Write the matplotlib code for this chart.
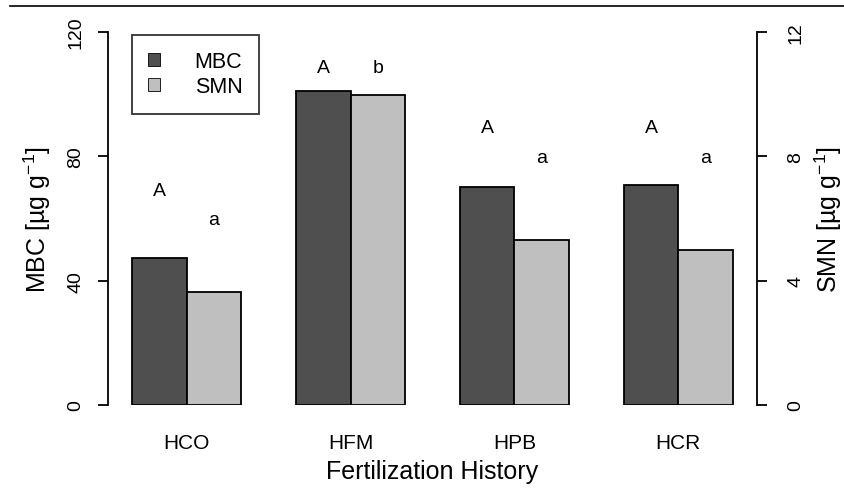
import numpy as np
import matplotlib
matplotlib.use("Agg")
import matplotlib.pyplot as plt
from matplotlib.lines import Line2D
from matplotlib.patches import Patch

plt.rcParams['font.family'] = ['Liberation Sans', 'DejaVu Sans']
plt.rcParams['mathtext.fontset'] = 'custom'
plt.rcParams['mathtext.rm'] = 'Liberation Sans'
plt.rcParams['mathtext.it'] = 'Liberation Sans'

groups = ['HCO', 'HFM', 'HPB', 'HCR']
mbc = [47.2, 100.9, 70.0, 70.7]          # µg g-1, left axis
smn = [3.63, 9.96, 5.30, 4.98]           # µg g-1, right axis
mbc_letters = ['A', 'A', 'A', 'A']
smn_letters = ['a', 'b', 'a', 'a']
mbc_letter_y = [69, 108.6, 89.3, 89.3]   # in MBC units
smn_letter_y = [59.8, 108.6, 79.7, 79.7]

dark = '#4f4f4f'
light = '#bfbfbf'

fig = plt.figure(figsize=(8.45, 4.89), dpi=100)
ax = fig.add_axes([108/845, 83/489, (757-108)/845, (406-33)/489])
ax2 = ax.twinx()

left = np.arange(len(groups)) * 3 + 1
ax.bar(left, mbc, width=1, align='edge', color=dark, edgecolor='black', linewidth=1.3, zorder=2)
ax2.bar(left + 1, smn, width=1, align='edge', color=light, edgecolor='black', linewidth=1.3, zorder=2)

for i in range(len(groups)):
    ax.text(left[i] + 0.5, mbc_letter_y[i], mbc_letters[i], ha='center', va='center', fontsize=14)
    ax.text(left[i] + 1.5, smn_letter_y[i], smn_letters[i], ha='center', va='center', fontsize=14)

ax.set_xlim(0.56, 12.44)
ax.set_ylim(0, 120)
ax2.set_ylim(0, 12)

for a in (ax, ax2):
    for s in ['top', 'bottom']:
        a.spines[s].set_visible(False)
ax.spines['right'].set_visible(False)
ax2.spines['left'].set_visible(False)
ax.spines['left'].set_bounds(0, 120)
ax2.spines['right'].set_bounds(0, 12)
ax.spines['left'].set_linewidth(1.3)
ax2.spines['right'].set_linewidth(1.3)

ax.set_yticks([0, 40, 80, 120])
ax2.set_yticks([0, 4, 8, 12])
ax.tick_params(axis='y', length=7, width=1.3, labelsize=14, pad=10)
ax2.tick_params(axis='y', length=7, width=1.3, labelsize=14, pad=15)
for lab in ax.get_yticklabels():
    lab.set_rotation(90)
    lab.set_va('center')
for lab in ax2.get_yticklabels():
    lab.set_rotation(90)
    lab.set_va('center')

ax.set_xticks(left + 1)
ax.set_xticklabels(groups, fontsize=15)
ax.tick_params(axis='x', length=0, pad=20)

ax.set_ylabel(r'MBC [µg g$^{-1}$]', fontsize=18, labelpad=10)
ax2.set_ylabel(r'SMN [µg g$^{-1}$]', fontsize=18, labelpad=6)
ax.set_xlabel('Fertilization History', fontsize=18, labelpad=5)

handles = [Patch(facecolor=dark, edgecolor='black', linewidth=0.6),
           Patch(facecolor=light, edgecolor='black', linewidth=0.6)]
leg = ax.legend(handles, ['MBC', 'SMN'], loc='upper left',
                bbox_to_anchor=(24/649, 1 - 3/373),
                fontsize=15.5, frameon=True, fancybox=False, handlelength=0.56, handleheight=0.56,
                handletextpad=1.6, borderpad=0.75, labelspacing=0.2, borderaxespad=0)
leg.get_frame().set_edgecolor('black')
leg.get_frame().set_linewidth(1.3)

# cut-off rule from page above
fig.add_artist(Line2D([10/845, 1.0], [1 - 7/489, 1 - 7/489], color='black', linewidth=1.2))

fig.savefig('out.png', dpi=100)
